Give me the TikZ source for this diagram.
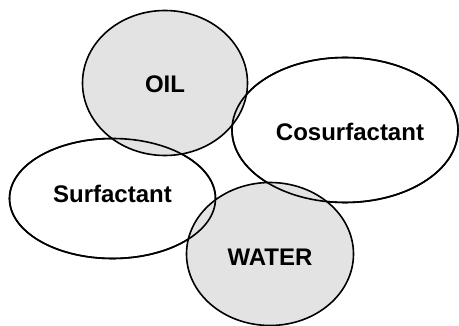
\documentclass[tikz,border=0pt]{standalone}
\usepackage{fontspec}
\setmainfont{Liberation Sans}
\usepackage{xcolor}
\definecolor{phasegray}{RGB}{227, 227, 227}
\usepackage{tikz}
\usetikzlibrary{
    shapes.geometric,
    positioning
}
\tikzstyle{phase} = [
    ellipse,
    draw=black,
    line width=1.6pt,
    inner sep=0pt
]
\tikzstyle{oilwater} = [
    phase,
    fill=phasegray
]
\tikzstyle{amphi} = [
    phase,
    fill=white
]
\tikzstyle{tag} = [
    font=\fontsize{24}{28}\selectfont\bfseries,
    inner sep=0pt
]
\tikzstyle{surfsize} = [minimum width=206pt, minimum height=120pt]
\tikzstyle{cosurfsize} = [minimum width=226pt, minimum height=145pt]

\begin{document}
\begin{tikzpicture}[x=1pt, y=-1pt]
\useasboundingbox (0,0) rectangle (459,326);

\node (surf) [amphi, surfsize] at (112.5,198.5) {};
\node (cosurf) [amphi, cosurfsize] at (345,130) {};
\node (oil) [oilwater, minimum width=165pt, minimum height=145pt] at (165,83) {};
\node (water) [oilwater, minimum width=167pt, minimum height=143pt] at (270,254) {};

% Ränder der weißen Ellipsen nochmal über das Grau
\node (surfrim) [phase, surfsize] at (surf) {};
\node (cosurfrim) [phase, cosurfsize] at (cosurf) {};

\node (oiltext) [tag] at ([yshift=-1pt]oil) {OIL};
\node (cosurftext) [tag] at ([xshift=5pt, yshift=-2pt]cosurf) {Cosurfactant};
\node (surftext) [tag] at ([yshift=4.5pt]surf) {Surfactant};
\node (watertext) [tag] at ([yshift=-3pt]water) {WATER};

\end{tikzpicture}
\end{document}
